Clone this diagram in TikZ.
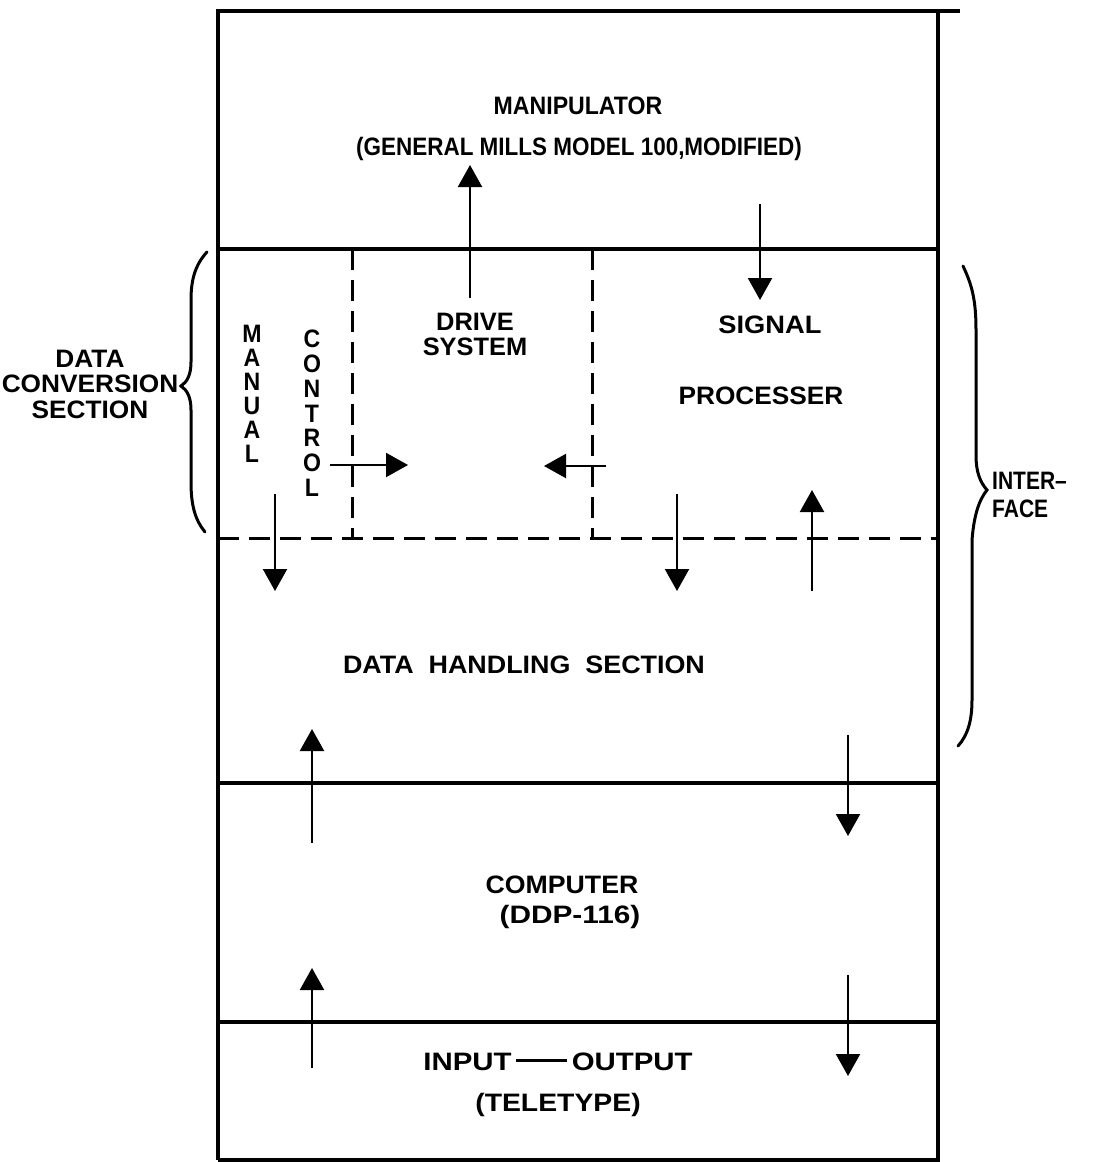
\documentclass[tikz,border=0pt]{standalone}
\usepackage{fontspec}
\usepackage{graphicx}
\setmainfont{Liberation Sans}
\usetikzlibrary{arrows.meta}
\newcommand{\st}[3][c]{\scalebox{#2}[1.2]{\begin{tabular}{@{}#1@{}}#3\end{tabular}}}
\begin{document}
\begin{tikzpicture}[x=1pt,y=-1pt,
  frame/.style={line width=3.2pt},
  dline/.style={line width=3pt,dash pattern=on 21pt off 10pt},
  flow/.style={line width=2.2pt,-{Triangle[length=22pt,width=24pt]}},
  lbl/.style={font=\bfseries\fontsize{21}{21}\selectfont,inner sep=0pt},
  brace/.style={line width=3pt,line cap=round}]
\useasboundingbox (0,0) rectangle (1102,1162);
% frame
\draw[frame] (218,1160) -- (218,11) -- (960,11);
\draw[frame] (938,11) -- (938,1160) -- (218,1160);
\draw[frame] (218,249) -- (938,249);
\draw[frame] (218,783) -- (938,783);
\draw[frame] (218,1022) -- (938,1022);
\draw[dline] (218,538) -- (938,538);
\draw[dline] (352,249) -- (352,538);
\draw[dline] (592,249) -- (592,538);
% texts
\node[lbl] (manip) at (578,109) {\st{1.1}{MANIPULATOR}};
\node[lbl] (gm) at (579,150) {\st{1.07}{(GENERAL MILLS MODEL 100,MODIFIED)}};
\node[lbl,font=\bfseries\fontsize{21}{20}\selectfont] (drive) at (475,338) {\st{1.21}{DRIVE\\SYSTEM}};
\node[lbl] (signal) at (770,328) {\st{1.3}{SIGNAL}};
\node[lbl] (proc) at (761,399) {\st{1.25}{PROCESSER}};
\node[lbl,font=\bfseries\fontsize{21}{18.3}\selectfont] (manual) at (252,397) {\st{1.1}{M\\A\\N\\U\\A\\L}};
\node[lbl,font=\bfseries\fontsize{21}{20.3}\selectfont] (control) at (312,417) {\st{1.1}{C\\O\\N\\T\\R\\O\\L}};
\node[lbl,font=\bfseries\fontsize{21}{20.8}\selectfont] (dcs) at (90,388) {\st{1.25}{DATA\\CONVERSION\\SECTION}};
\node[lbl,font=\bfseries\fontsize{21}{23.3}\selectfont,anchor=west] (iface) at (992,498) {\st[l]{1.0}{INTER--\\FACE}};
\node[lbl] (dhs) at (524,668) {\st{1.28}{DATA\ \ HANDLING\ \ SECTION}};
\node[lbl] (comp) at (562,888) {\st{1.27}{COMPUTER}};
\node[lbl] (ddp) at (570,918) {\st{1.42}{(DDP-116)}};
\node[lbl] (io) at (558,1065) {\st{1.4}{INPUT\,\rule[0.33em]{36pt}{2.2pt}\,OUTPUT}};
\node[lbl] (tty) at (558,1106) {\st{1.35}{(TELETYPE)}};
% arrow end points
\coordinate (a1s) at (470,298); \coordinate (a1e) at (470,165);
\coordinate (a2s) at (760,204); \coordinate (a2e) at (760,300);
\coordinate (a3s) at (330,465); \coordinate (a3e) at (408,465);
\coordinate (a4s) at (606,466); \coordinate (a4e) at (544,466);
\coordinate (a5s) at (275,494); \coordinate (a5e) at (275,591);
\coordinate (a6s) at (677,494); \coordinate (a6e) at (677,591);
\coordinate (a7s) at (812,591); \coordinate (a7e) at (812,490);
\coordinate (a8s) at (312,843); \coordinate (a8e) at (312,729);
\coordinate (a9s) at (848,735); \coordinate (a9e) at (848,836);
\coordinate (a10s) at (312,1068); \coordinate (a10e) at (312,968);
\coordinate (a11s) at (848,975); \coordinate (a11e) at (848,1076);
\foreach \i in {1,...,11} \draw[flow] (a\i s) -- (a\i e);
% braces
\draw[brace] (207,252) .. controls (195,265) and (191,280) .. (191,300)
  -- (191,362) .. controls (191,375) and (187,382) .. (181,386)
  .. controls (187,390) and (191,397) .. (191,410)
  -- (191,482) .. controls (191,505) and (195,520) .. (205,532);
\draw[brace] (963,266) .. controls (972,285) and (976,300) .. (976,330)
  -- (976,455) .. controls (976,472) and (980,482) .. (987,490)
  .. controls (979,500) and (974,515) .. (972,540)
  -- (972,700) .. controls (972,720) and (968,735) .. (958,746);
\end{tikzpicture}
\end{document}
